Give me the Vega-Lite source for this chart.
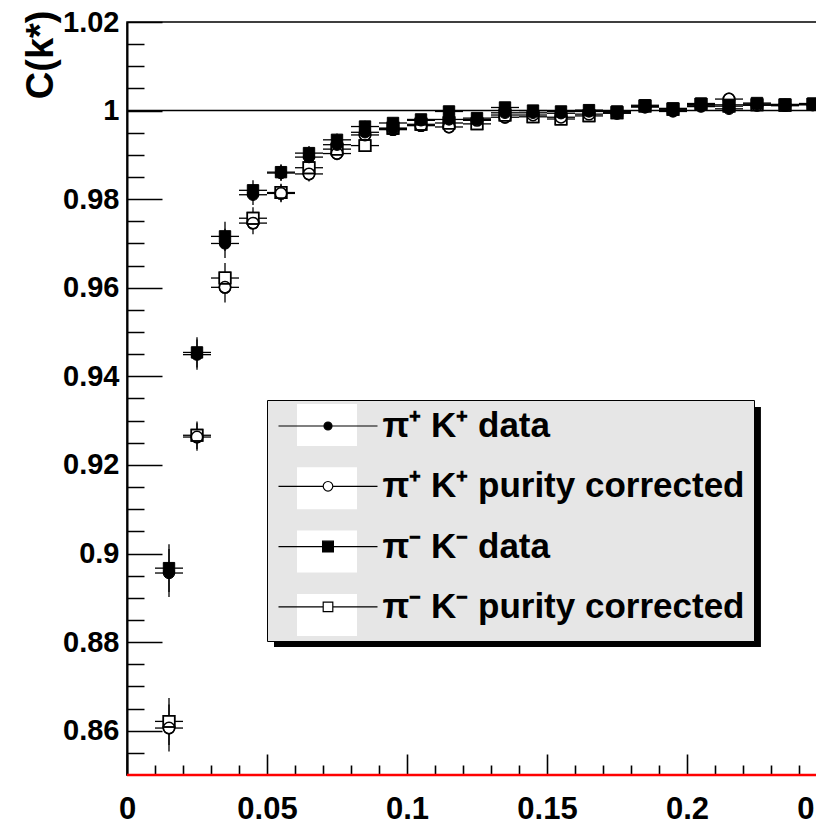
{
  "$schema": "https://vega.github.io/schema/vega-lite/v6.json",
  "width": 728,
  "height": 753,
  "autosize": {"type": "none"},
  "padding": {"left": 127, "top": 22, "right": -39, "bottom": 49},
  "background": "white",
  "config": {
    "view": {"stroke": "black", "strokeWidth": 1.5},
    "font": "Liberation Sans",
    "axis": {
      "grid": false,
      "labelFont": "Liberation Sans",
      "labelFontWeight": "bold",
      "labelColor": "black",
      "tickWidth": 1.5,
      "domainColor": "black",
      "domainWidth": 2,
      "labelOverlap": false,
      "labelFlush": false,
      "labelBound": false
    },
    "legend": {
      "orient": "none",
      "legendX": 140,
      "legendY": 378,
      "direction": "vertical",
      "padding": 5,
      "rowPadding": 21.3,
      "symbolSize": 1600,
      "symbolOffset": 35,
      "labelOffset": 33.5,
      "labelFont": "Liberation Sans",
      "labelFontSize": 35,
      "labelFontWeight": "bold",
      "labelLimit": 600,
      "symbolOpacity": 1
    }
  },
  "datasets": {
    "pk": [
      {"s": "π⁺ K⁺ data", "k": 0.015, "lo": 0.01, "hi": 0.02, "c": 0.8956, "e": 0.0054},
      {"s": "π⁺ K⁺ data", "k": 0.025, "lo": 0.02, "hi": 0.03, "c": 0.9449, "e": 0.0034},
      {"s": "π⁺ K⁺ data", "k": 0.035, "lo": 0.03, "hi": 0.04, "c": 0.9700, "e": 0.0033},
      {"s": "π⁺ K⁺ data", "k": 0.045, "lo": 0.04, "hi": 0.05, "c": 0.9810, "e": 0.0023},
      {"s": "π⁺ K⁺ data", "k": 0.055, "lo": 0.05, "hi": 0.06, "c": 0.9859, "e": 0.0018},
      {"s": "π⁺ K⁺ data", "k": 0.065, "lo": 0.06, "hi": 0.07, "c": 0.9895, "e": 0.0016},
      {"s": "π⁺ K⁺ data", "k": 0.075, "lo": 0.07, "hi": 0.08, "c": 0.9923, "e": 0.0014},
      {"s": "π⁺ K⁺ data", "k": 0.085, "lo": 0.08, "hi": 0.09, "c": 0.9951, "e": 0.0013},
      {"s": "π⁺ K⁺ data", "k": 0.095, "lo": 0.09, "hi": 0.10, "c": 0.9960, "e": 0.0012},
      {"s": "π⁺ K⁺ data", "k": 0.105, "lo": 0.10, "hi": 0.11, "c": 0.9978, "e": 0.0011},
      {"s": "π⁺ K⁺ data", "k": 0.115, "lo": 0.11, "hi": 0.12, "c": 0.9980, "e": 0.0011},
      {"s": "π⁺ K⁺ data", "k": 0.125, "lo": 0.12, "hi": 0.13, "c": 0.9980, "e": 0.0010},
      {"s": "π⁺ K⁺ data", "k": 0.135, "lo": 0.13, "hi": 0.14, "c": 0.9995, "e": 0.0010},
      {"s": "π⁺ K⁺ data", "k": 0.145, "lo": 0.14, "hi": 0.15, "c": 0.9995, "e": 0.0009},
      {"s": "π⁺ K⁺ data", "k": 0.155, "lo": 0.15, "hi": 0.16, "c": 0.9994, "e": 0.0009},
      {"s": "π⁺ K⁺ data", "k": 0.165, "lo": 0.16, "hi": 0.17, "c": 0.9998, "e": 0.0009},
      {"s": "π⁺ K⁺ data", "k": 0.175, "lo": 0.17, "hi": 0.18, "c": 0.9995, "e": 0.0008},
      {"s": "π⁺ K⁺ data", "k": 0.185, "lo": 0.18, "hi": 0.19, "c": 1.0009, "e": 0.0008},
      {"s": "π⁺ K⁺ data", "k": 0.195, "lo": 0.19, "hi": 0.20, "c": 0.9998, "e": 0.0008},
      {"s": "π⁺ K⁺ data", "k": 0.205, "lo": 0.20, "hi": 0.21, "c": 1.0009, "e": 0.0008},
      {"s": "π⁺ K⁺ data", "k": 0.215, "lo": 0.21, "hi": 0.22, "c": 1.0004, "e": 0.0007},
      {"s": "π⁺ K⁺ data", "k": 0.225, "lo": 0.22, "hi": 0.23, "c": 1.0015, "e": 0.0007},
      {"s": "π⁺ K⁺ data", "k": 0.235, "lo": 0.23, "hi": 0.24, "c": 1.0011, "e": 0.0007},
      {"s": "π⁺ K⁺ data", "k": 0.245, "lo": 0.24, "hi": 0.25, "c": 1.0014, "e": 0.0007},

      {"s": "π⁺ K⁺ purity corrected", "k": 0.015, "lo": 0.01, "hi": 0.02, "c": 0.8606, "e": 0.0053},
      {"s": "π⁺ K⁺ purity corrected", "k": 0.025, "lo": 0.02, "hi": 0.03, "c": 0.9263, "e": 0.0031},
      {"s": "π⁺ K⁺ purity corrected", "k": 0.035, "lo": 0.03, "hi": 0.04, "c": 0.9601, "e": 0.0034},
      {"s": "π⁺ K⁺ purity corrected", "k": 0.045, "lo": 0.04, "hi": 0.05, "c": 0.9746, "e": 0.0025},
      {"s": "π⁺ K⁺ purity corrected", "k": 0.055, "lo": 0.05, "hi": 0.06, "c": 0.9813, "e": 0.0020},
      {"s": "π⁺ K⁺ purity corrected", "k": 0.065, "lo": 0.06, "hi": 0.07, "c": 0.9857, "e": 0.0017},
      {"s": "π⁺ K⁺ purity corrected", "k": 0.075, "lo": 0.07, "hi": 0.08, "c": 0.9903, "e": 0.0015},
      {"s": "π⁺ K⁺ purity corrected", "k": 0.085, "lo": 0.08, "hi": 0.09, "c": 0.9945, "e": 0.0014},
      {"s": "π⁺ K⁺ purity corrected", "k": 0.095, "lo": 0.09, "hi": 0.10, "c": 0.9957, "e": 0.0013},
      {"s": "π⁺ K⁺ purity corrected", "k": 0.105, "lo": 0.10, "hi": 0.11, "c": 0.9966, "e": 0.0012},
      {"s": "π⁺ K⁺ purity corrected", "k": 0.115, "lo": 0.11, "hi": 0.12, "c": 0.9963, "e": 0.0011},
      {"s": "π⁺ K⁺ purity corrected", "k": 0.125, "lo": 0.12, "hi": 0.13, "c": 0.9978, "e": 0.0011},
      {"s": "π⁺ K⁺ purity corrected", "k": 0.135, "lo": 0.13, "hi": 0.14, "c": 0.9985, "e": 0.0010},
      {"s": "π⁺ K⁺ purity corrected", "k": 0.145, "lo": 0.14, "hi": 0.15, "c": 0.9990, "e": 0.0010},
      {"s": "π⁺ K⁺ purity corrected", "k": 0.155, "lo": 0.15, "hi": 0.16, "c": 0.9985, "e": 0.0009},
      {"s": "π⁺ K⁺ purity corrected", "k": 0.165, "lo": 0.16, "hi": 0.17, "c": 0.9992, "e": 0.0009},
      {"s": "π⁺ K⁺ purity corrected", "k": 0.175, "lo": 0.17, "hi": 0.18, "c": 0.9994, "e": 0.0009},
      {"s": "π⁺ K⁺ purity corrected", "k": 0.185, "lo": 0.18, "hi": 0.19, "c": 1.0008, "e": 0.0008},
      {"s": "π⁺ K⁺ purity corrected", "k": 0.195, "lo": 0.19, "hi": 0.20, "c": 1.0001, "e": 0.0008},
      {"s": "π⁺ K⁺ purity corrected", "k": 0.205, "lo": 0.20, "hi": 0.21, "c": 1.0012, "e": 0.0008},
      {"s": "π⁺ K⁺ purity corrected", "k": 0.215, "lo": 0.21, "hi": 0.22, "c": 1.0026, "e": 0.0008},
      {"s": "π⁺ K⁺ purity corrected", "k": 0.225, "lo": 0.22, "hi": 0.23, "c": 1.0012, "e": 0.0008},
      {"s": "π⁺ K⁺ purity corrected", "k": 0.235, "lo": 0.23, "hi": 0.24, "c": 1.0012, "e": 0.0007},
      {"s": "π⁺ K⁺ purity corrected", "k": 0.245, "lo": 0.24, "hi": 0.25, "c": 1.0013, "e": 0.0007},

      {"s": "π⁻ K⁻ data", "k": 0.015, "lo": 0.01, "hi": 0.02, "c": 0.8967, "e": 0.0054},
      {"s": "π⁻ K⁻ data", "k": 0.025, "lo": 0.02, "hi": 0.03, "c": 0.9454, "e": 0.0034},
      {"s": "π⁻ K⁻ data", "k": 0.035, "lo": 0.03, "hi": 0.04, "c": 0.9716, "e": 0.0033},
      {"s": "π⁻ K⁻ data", "k": 0.045, "lo": 0.04, "hi": 0.05, "c": 0.9820, "e": 0.0023},
      {"s": "π⁻ K⁻ data", "k": 0.055, "lo": 0.05, "hi": 0.06, "c": 0.9861, "e": 0.0018},
      {"s": "π⁻ K⁻ data", "k": 0.065, "lo": 0.06, "hi": 0.07, "c": 0.9904, "e": 0.0016},
      {"s": "π⁻ K⁻ data", "k": 0.075, "lo": 0.07, "hi": 0.08, "c": 0.9934, "e": 0.0014},
      {"s": "π⁻ K⁻ data", "k": 0.085, "lo": 0.08, "hi": 0.09, "c": 0.9964, "e": 0.0013},
      {"s": "π⁻ K⁻ data", "k": 0.095, "lo": 0.09, "hi": 0.10, "c": 0.9972, "e": 0.0012},
      {"s": "π⁻ K⁻ data", "k": 0.105, "lo": 0.10, "hi": 0.11, "c": 0.9980, "e": 0.0011},
      {"s": "π⁻ K⁻ data", "k": 0.115, "lo": 0.11, "hi": 0.12, "c": 0.9998, "e": 0.0011},
      {"s": "π⁻ K⁻ data", "k": 0.125, "lo": 0.12, "hi": 0.13, "c": 0.9983, "e": 0.0010},
      {"s": "π⁻ K⁻ data", "k": 0.135, "lo": 0.13, "hi": 0.14, "c": 1.0007, "e": 0.0010},
      {"s": "π⁻ K⁻ data", "k": 0.145, "lo": 0.14, "hi": 0.15, "c": 1.0000, "e": 0.0009},
      {"s": "π⁻ K⁻ data", "k": 0.155, "lo": 0.15, "hi": 0.16, "c": 0.9998, "e": 0.0009},
      {"s": "π⁻ K⁻ data", "k": 0.165, "lo": 0.16, "hi": 0.17, "c": 1.0001, "e": 0.0009},
      {"s": "π⁻ K⁻ data", "k": 0.175, "lo": 0.17, "hi": 0.18, "c": 0.9998, "e": 0.0008},
      {"s": "π⁻ K⁻ data", "k": 0.185, "lo": 0.18, "hi": 0.19, "c": 1.0012, "e": 0.0008},
      {"s": "π⁻ K⁻ data", "k": 0.195, "lo": 0.19, "hi": 0.20, "c": 1.0005, "e": 0.0008},
      {"s": "π⁻ K⁻ data", "k": 0.205, "lo": 0.20, "hi": 0.21, "c": 1.0016, "e": 0.0008},
      {"s": "π⁻ K⁻ data", "k": 0.215, "lo": 0.21, "hi": 0.22, "c": 1.0013, "e": 0.0007},
      {"s": "π⁻ K⁻ data", "k": 0.225, "lo": 0.22, "hi": 0.23, "c": 1.0017, "e": 0.0007},
      {"s": "π⁻ K⁻ data", "k": 0.235, "lo": 0.23, "hi": 0.24, "c": 1.0014, "e": 0.0007},
      {"s": "π⁻ K⁻ data", "k": 0.245, "lo": 0.24, "hi": 0.25, "c": 1.0016, "e": 0.0007},

      {"s": "π⁻ K⁻ purity corrected", "k": 0.015, "lo": 0.01, "hi": 0.02, "c": 0.8621, "e": 0.0053},
      {"s": "π⁻ K⁻ purity corrected", "k": 0.025, "lo": 0.02, "hi": 0.03, "c": 0.9267, "e": 0.0031},
      {"s": "π⁻ K⁻ purity corrected", "k": 0.035, "lo": 0.03, "hi": 0.04, "c": 0.9622, "e": 0.0034},
      {"s": "π⁻ K⁻ purity corrected", "k": 0.045, "lo": 0.04, "hi": 0.05, "c": 0.9757, "e": 0.0025},
      {"s": "π⁻ K⁻ purity corrected", "k": 0.055, "lo": 0.05, "hi": 0.06, "c": 0.9815, "e": 0.0020},
      {"s": "π⁻ K⁻ purity corrected", "k": 0.065, "lo": 0.06, "hi": 0.07, "c": 0.9871, "e": 0.0017},
      {"s": "π⁻ K⁻ purity corrected", "k": 0.075, "lo": 0.07, "hi": 0.08, "c": 0.9913, "e": 0.0015},
      {"s": "π⁻ K⁻ purity corrected", "k": 0.085, "lo": 0.08, "hi": 0.09, "c": 0.9921, "e": 0.0014},
      {"s": "π⁻ K⁻ purity corrected", "k": 0.095, "lo": 0.09, "hi": 0.10, "c": 0.9960, "e": 0.0013},
      {"s": "π⁻ K⁻ purity corrected", "k": 0.105, "lo": 0.10, "hi": 0.11, "c": 0.9969, "e": 0.0012},
      {"s": "π⁻ K⁻ purity corrected", "k": 0.115, "lo": 0.11, "hi": 0.12, "c": 0.9972, "e": 0.0011},
      {"s": "π⁻ K⁻ purity corrected", "k": 0.125, "lo": 0.12, "hi": 0.13, "c": 0.9970, "e": 0.0011},
      {"s": "π⁻ K⁻ purity corrected", "k": 0.135, "lo": 0.13, "hi": 0.14, "c": 0.9990, "e": 0.0010},
      {"s": "π⁻ K⁻ purity corrected", "k": 0.145, "lo": 0.14, "hi": 0.15, "c": 0.9986, "e": 0.0010},
      {"s": "π⁻ K⁻ purity corrected", "k": 0.155, "lo": 0.15, "hi": 0.16, "c": 0.9981, "e": 0.0009},
      {"s": "π⁻ K⁻ purity corrected", "k": 0.165, "lo": 0.16, "hi": 0.17, "c": 0.9988, "e": 0.0009},
      {"s": "π⁻ K⁻ purity corrected", "k": 0.175, "lo": 0.17, "hi": 0.18, "c": 0.9995, "e": 0.0009},
      {"s": "π⁻ K⁻ purity corrected", "k": 0.185, "lo": 0.18, "hi": 0.19, "c": 1.0010, "e": 0.0008},
      {"s": "π⁻ K⁻ purity corrected", "k": 0.195, "lo": 0.19, "hi": 0.20, "c": 1.0003, "e": 0.0008},
      {"s": "π⁻ K⁻ purity corrected", "k": 0.205, "lo": 0.20, "hi": 0.21, "c": 1.0014, "e": 0.0008},
      {"s": "π⁻ K⁻ purity corrected", "k": 0.215, "lo": 0.21, "hi": 0.22, "c": 1.0010, "e": 0.0008},
      {"s": "π⁻ K⁻ purity corrected", "k": 0.225, "lo": 0.22, "hi": 0.23, "c": 1.0013, "e": 0.0008},
      {"s": "π⁻ K⁻ purity corrected", "k": 0.235, "lo": 0.23, "hi": 0.24, "c": 1.0012, "e": 0.0007},
      {"s": "π⁻ K⁻ purity corrected", "k": 0.245, "lo": 0.24, "hi": 0.25, "c": 1.0014, "e": 0.0007}
    ]
  },
  "data": {"name": "pk"},
  "layer": [
    {
      "data": {"values": [{}]},
      "mark": {"type": "rect", "color": "black"},
      "encoding": {
        "x": {"datum": 0.0525, "type": "quantitative", "scale": {"domain": [0, 0.26], "nice": false, "zero": false}, "axis": null},
        "x2": {"datum": 0.2264},
        "y": {"datum": 0.9331, "type": "quantitative", "scale": {"domain": [0.85, 1.02], "nice": false, "zero": false}, "axis": null},
        "y2": {"datum": 0.8789}
      }
    },
    {
      "data": {"values": [{}]},
      "mark": {"type": "rule", "color": "black", "strokeWidth": 1.5},
      "encoding": {
        "y": {"datum": 1, "type": "quantitative", "axis": null}
      }
    },
    {
      "data": {"values": [{}]},
      "mark": {"type": "rule", "color": "#ff0000", "strokeWidth": 2.5},
      "encoding": {
        "y": {"datum": 0.85, "type": "quantitative", "axis": null}
      }
    },
    {
      "mark": {"type": "errorbar", "color": "black", "thickness": 1.3},
      "encoding": {
        "x": {
          "field": "k", "type": "quantitative",
          "axis": {
            "orient": "bottom",
            "offset": -21,
            "values": [0, 0.05, 0.1, 0.15, 0.2, 0.25],
            "format": "~g",
            "ticks": true,
            "tickColor": "#000000",
            "tickWidth": 1.6,
            "tickSize": 21,
            "labelPadding": 19.5,
            "labelFontSize": 31,
            "domain": false,
            "title": null
          }
        },
        "y": {
          "field": "c", "type": "quantitative",
          "axis": {
            "orient": "left",
            "values": [0.86, 0.88, 0.9, 0.92, 0.94, 0.96, 0.98, 1, 1.02],
            "format": "~g",
            "ticks": true,
            "tickColor": "#000000",
            "tickSize": -35,
            "labelPadding": 43,
            "labelFontSize": 29,
            "title": "C(k*)",
            "titleFont": "Liberation Sans",
            "titleFontSize": 38,
            "titleFontWeight": "bold",
            "titleColor": "black",
            "titleAngle": -90,
            "titleAlign": "right",
            "titleBaseline": "middle",
            "titleX": -86,
            "titleY": -12
          }
        },
        "yError": {"field": "e"}
      }
    },
    {
      "mark": {"type": "rule", "color": "black", "strokeWidth": 1.3},
      "encoding": {
        "x": {
          "field": "lo", "type": "quantitative",
          "axis": {
            "orient": "bottom",
            "offset": -10,
            "values": [0.01, 0.02, 0.03, 0.04, 0.06, 0.07, 0.08, 0.09, 0.11, 0.12, 0.13, 0.14, 0.16, 0.17, 0.18, 0.19, 0.21, 0.22, 0.23, 0.24],
            "ticks": true,
            "tickColor": "#000000",
            "tickWidth": 1.6,
            "tickSize": 10,
            "labels": false,
            "domain": false,
            "title": null
          }
        },
        "x2": {"field": "hi"},
        "y": {
          "field": "c", "type": "quantitative",
          "axis": {
            "orient": "left",
            "values": [0.855, 0.865, 0.87, 0.875, 0.885, 0.89, 0.895, 0.905, 0.91, 0.915, 0.925, 0.93, 0.935, 0.945, 0.95, 0.955, 0.965, 0.97, 0.975, 0.985, 0.99, 0.995, 1.005, 1.01, 1.015],
            "ticks": true,
            "tickColor": "#000000",
            "tickSize": -17,
            "labels": false,
            "domain": false,
            "title": null
          }
        }
      }
    },
    {
      "transform": [{"filter": "indexof(datum.s, 'purity') >= 0"}],
      "mark": {"type": "point", "filled": true, "fill": "white", "stroke": "black", "strokeWidth": 1.5, "size": 130, "opacity": 1},
      "encoding": {
        "x": {"field": "k", "type": "quantitative", "axis": null},
        "y": {"field": "c", "type": "quantitative", "axis": null},
        "shape": {
          "field": "s", "type": "nominal", "legend": null,
          "scale": {"domain": ["π⁺ K⁺ purity corrected", "π⁻ K⁻ purity corrected"], "range": ["circle", "square"]}
        }
      }
    },
    {
      "transform": [{"filter": "indexof(datum.s, 'data') >= 0"}],
      "mark": {"type": "point", "filled": true, "fill": "black", "stroke": "black", "strokeWidth": 1, "size": 130, "opacity": 1},
      "encoding": {
        "x": {"field": "k", "type": "quantitative", "axis": null},
        "y": {"field": "c", "type": "quantitative", "axis": null},
        "shape": {
          "field": "s", "type": "nominal", "legend": null,
          "scale": {"domain": ["π⁺ K⁺ data", "π⁻ K⁻ data"], "range": ["circle", "square"]}
        }
      }
    },
    {
      "transform": [{"filter": "indexof(datum.s, 'purity') >= 0"}],
      "mark": {"type": "point", "filled": false, "stroke": "black", "strokeWidth": 1.5, "size": 130, "opacity": 1},
      "encoding": {
        "x": {"field": "k", "type": "quantitative", "axis": null},
        "y": {"field": "c", "type": "quantitative", "axis": null},
        "shape": {
          "field": "s", "type": "nominal", "legend": null,
          "scale": {"domain": ["π⁺ K⁺ purity corrected", "π⁻ K⁻ purity corrected"], "range": ["circle", "square"]}
        }
      }
    },
    {
      "transform": [{"filter": "false"}],
      "mark": {"type": "point", "filled": true, "fill": "white", "strokeOpacity": 0, "opacity": 1},
      "encoding": {
        "shape": {
          "field": "s", "type": "nominal",
          "scale": {
            "domain": ["π⁺ K⁺ data", "π⁺ K⁺ purity corrected", "π⁻ K⁻ data", "π⁻ K⁻ purity corrected"],
            "range": [
              "M-1.5,-1.05H1.5V1.05H-1.5Z",
              "M-1.5,-1.05H1.5V1.05H-1.5Z",
              "M-1.5,-1.05H1.5V1.05H-1.5Z",
              "M-1.5,-1.05H1.5V1.05H-1.5Z"
            ]
          },
          "legend": {
            "title": null,
            "fillColor": "#e6e6e6",
            "strokeColor": "black",
            "labelExpr": "' '",
            "labelOffset": 401.5,
            "labelColor": "transparent",
            "symbolFillColor": "white",
            "symbolStrokeColor": "transparent",
            "symbolStrokeWidth": 0
          }
        }
      }
    },
    {
      "transform": [{"filter": "false"}],
      "mark": {"type": "point", "filled": true, "stroke": "black", "strokeWidth": 1.2, "opacity": 1},
      "encoding": {
        "shape": {
          "field": "s", "type": "nominal",
          "scale": {
            "domain": ["π⁺ K⁺ data", "π⁺ K⁺ purity corrected", "π⁻ K⁻ data", "π⁻ K⁻ purity corrected"],
            "range": [
              "M-2.475,0H2.475M0.2,0A0.2,0.2,0,1,1,-0.2,0A0.2,0.2,0,1,1,0.2,0Z",
              "M-2.475,0H-0.24M0.24,0H2.475M0.24,0A0.24,0.24,0,1,1,-0.24,0A0.24,0.24,0,1,1,0.24,0Z",
              "M-2.475,0H2.475M-0.27,-0.27H0.27V0.27H-0.27Z",
              "M-2.475,0H-0.24M0.24,0H2.475M-0.24,-0.24H0.24V0.24H-0.24Z"
            ]
          },
          "legend": {
            "title": null,
            "fillColor": "transparent",
            "strokeColor": "transparent",
            "labelColor": "black",
            "symbolStrokeColor": "black",
            "symbolStrokeWidth": 1.2
          }
        },
        "fill": {
          "field": "s", "type": "nominal",
          "scale": {
            "domain": ["π⁺ K⁺ data", "π⁺ K⁺ purity corrected", "π⁻ K⁻ data", "π⁻ K⁻ purity corrected"],
            "range": ["black", "white", "black", "white"]
          }
        },
        "stroke": {
          "field": "s", "type": "nominal",
          "scale": {
            "domain": ["π⁺ K⁺ data", "π⁺ K⁺ purity corrected", "π⁻ K⁻ data", "π⁻ K⁻ purity corrected"],
            "range": ["black", "black", "black", "black"]
          }
        }
      }
    }
  ],
  "resolve": {
    "axis": {"x": "independent", "y": "independent"},
    "scale": {"shape": "independent", "fill": "independent", "stroke": "independent"}
  }
}
